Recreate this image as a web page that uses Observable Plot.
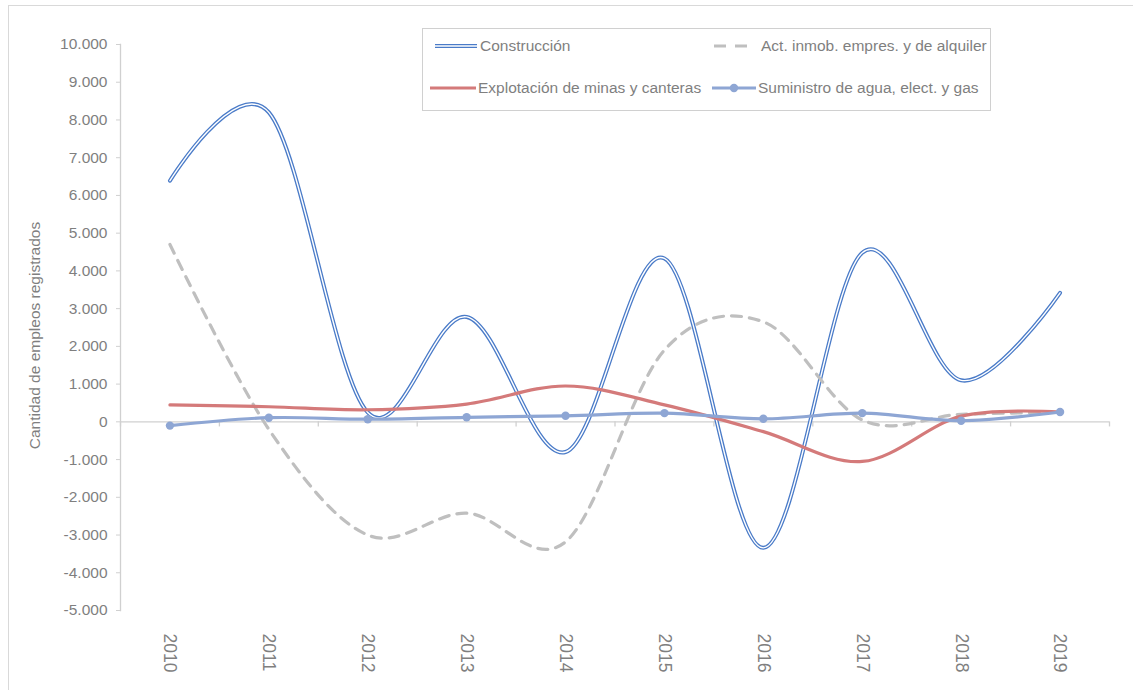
<!DOCTYPE html>
<html><head><meta charset="utf-8">
<script src="https://cdn.jsdelivr.net/npm/d3@7"></script>
<script src="https://cdn.jsdelivr.net/npm/@observablehq/plot@0.6"></script>
<style>
body{margin:0;background:#fff;font-family:"Liberation Sans",Arial,sans-serif;}
#wrap{position:relative;width:1133px;height:690px;overflow:hidden;background:#fff;}
#frame{position:absolute;left:8px;top:5px;width:2000px;height:2000px;border-left:1.5px solid #d9d9d9;border-top:1.5px solid #d9d9d9;pointer-events:none;}
#chart{position:absolute;left:0;top:0;}
#legend{position:absolute;left:422px;top:28px;width:567px;height:81px;border:1px solid #d0d0d0;background:#fff;}
.item{position:absolute;display:flex;align-items:center;font-size:15.5px;color:#7f7f7f;white-space:nowrap;}
.item svg{margin-right:2px;}
</style></head>
<body>
<div id="wrap">
  <div id="frame"></div>
  <div id="chart"></div>
  <div id="legend"></div>
</div>
<script>
const years = [2010, 2011, 2012, 2013, 2014, 2015, 2016, 2017, 2018, 2019];
const construccion = [6390, 8200, 250, 2780, -800, 4330, -3340, 4480, 1100, 3420];
const actInmob = [4700, -200, -3000, -2420, -3180, 1900, 2650, 50, 200, 250];
const explotacion = [450, 400, 320, 470, 950, 450, -260, -1050, 150, 260];
const suministro = [-100, 110, 70, 120, 160, 230, 80, 230, 30, 260];
const yTicks = [-5000, -4000, -3000, -2000, -1000, 0, 1000, 2000, 3000, 4000, 5000, 6000, 7000, 8000, 9000, 10000];
const seriesNames = ["Construcción", "Act. inmob. empres. y de alquiler", "Explotación de minas y canteras", "Suministro de agua, elect. y gas"];
const yTitle = "Cantidad de empleos registrados";

const toRows = (arr) => years.map((y, i) => ({year: y, value: arr[i]}));
const cRows = toRows(construccion);
const aRows = toRows(actInmob);
const eRows = toRows(explotacion);
const sRows = toRows(suministro);
const bounds = d3.range(years[0] - 0.5, years[years.length - 1] + 1, 1);

const loc = d3.formatLocale({decimal: ",", thousands: ".", grouping: [3], currency: ["", ""], minus: "-"});
const fmt = loc.format(",d");

const axisColor = "#d0d0d0";
const textColor = "#7f7f7f";

const chart = Plot.plot({
  width: 1133,
  height: 690,
  marginLeft: 120,
  marginRight: 24,
  marginTop: 44,
  marginBottom: 80,
  style: {fontFamily: '"Liberation Sans", Arial, sans-serif', fontSize: "15.5px", color: textColor, background: "transparent", overflow: "visible"},
  x: {domain: [years[0] - 0.5, years[years.length - 1] + 0.5], label: null, axis: null},
  y: {domain: [-5000, 10000], label: null, axis: null},
  marks: [
    Plot.frame({anchor: "left", stroke: axisColor, strokeWidth: 1.3}),
    Plot.ruleY([0], {stroke: axisColor, strokeWidth: 1.3}),
    Plot.ruleX(bounds, {x: d => d, y1: 0, y2: -135, stroke: axisColor, strokeWidth: 1.3}),
    Plot.axisY({ticks: yTicks, tickFormat: fmt, tickSize: 4, tickPadding: 9, stroke: axisColor, fill: textColor, label: null, fontSize: 15.5}),
    Plot.axisX({ticks: years, tickFormat: d => String(d), tickSize: 0, tickPadding: 23, tickRotate: 90, fill: textColor, label: null, fontSize: 17.5}),
    Plot.text([yTitle], {frameAnchor: "left", textAnchor: "middle", dx: -85, dy: 8, rotate: -90, fill: textColor, fontSize: 15.5}),
    // Construcción: double line
    Plot.line(cRows, {x: "year", y: "value", stroke: "#4a7bc8", strokeWidth: 4, curve: "cardinal", tension: 0}),
    Plot.line(cRows, {x: "year", y: "value", stroke: "#ffffff", strokeWidth: 1.4, curve: "cardinal", tension: 0}),
    // Act. inmob.
    Plot.line(aRows, {x: "year", y: "value", stroke: "#bfbfbf", strokeWidth: 3.2, strokeDasharray: "10,8", curve: "cardinal", tension: 0}),
    // Explotación
    Plot.line(eRows, {x: "year", y: "value", stroke: "#d47a7a", strokeWidth: 3.2, curve: "cardinal", tension: 0}),
    // Suministro
    Plot.line(sRows, {x: "year", y: "value", stroke: "#8ea6d4", strokeWidth: 3.2, curve: "cardinal", tension: 0}),
    Plot.dot(sRows, {x: "year", y: "value", r: 4.2, fill: "#8ea6d4", stroke: "none"})
  ]
});
document.getElementById("chart").appendChild(chart);

// Legend
const legend = document.getElementById("legend");
const samples = [
  `<svg width="44" height="10"><line x1="1" y1="5" x2="43" y2="5" stroke="#4a7bc8" stroke-width="4"/><line x1="1" y1="5" x2="43" y2="5" stroke="#fff" stroke-width="1.4"/></svg>`,
  `<svg width="46" height="10"><line x1="2" y1="5" x2="44" y2="5" stroke="#bfbfbf" stroke-width="3.2" stroke-dasharray="12,9"/></svg>`,
  `<svg width="46" height="10"><line x1="0" y1="5" x2="46" y2="5" stroke="#d47a7a" stroke-width="3.2"/></svg>`,
  `<svg width="44" height="10"><line x1="0" y1="5" x2="44" y2="5" stroke="#8ea6d4" stroke-width="3.2"/><circle cx="22" cy="5" r="4.2" fill="#8ea6d4"/></svg>`
];
const pos = [[11, 17], [289, 17], [7, 59], [289, 59]];
seriesNames.forEach((name, i) => {
  const d = document.createElement("div");
  d.className = "item";
  d.style.left = pos[i][0] + "px";
  d.style.top = (pos[i][1] - 10) + "px";
  d.style.height = "20px";
  d.innerHTML = samples[i] + `<span${i === 1 ? ' style="margin-left:1px"' : ''}>${name}</span>`;
  legend.appendChild(d);
});
</script>
</body></html>
